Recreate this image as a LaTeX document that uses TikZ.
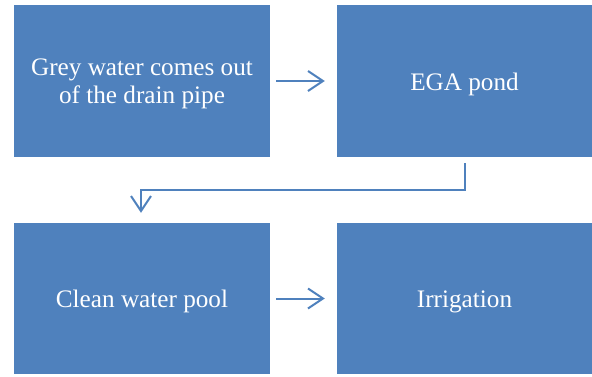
\documentclass[tikz,border=0pt]{standalone}
\usepackage{fontspec}
\setmainfont{Liberation Serif}
\usetikzlibrary{arrows.meta}
\definecolor{boxblue}{HTML}{4F81BD}
\begin{document}
\begin{tikzpicture}[x=1pt,y=-1pt,
  flowbox/.style={fill=boxblue,draw=none,inner sep=0pt,minimum height=152pt},
  boxtext/.style={text=white,align=center,font=\fontsize{25.2}{27.5}\selectfont,inner sep=0pt},
  conn/.style={draw=boxblue,line width=2pt,-{Straight Barb[length=15pt,width=20pt,line width=2pt]}}]
\useasboundingbox (0,0) rectangle (592,376);
\node[flowbox,minimum width=256pt] (a) at (142,81) {};
\node[flowbox,minimum width=255pt] (b) at (464.5,81) {};
\node[flowbox,minimum width=256pt,minimum height=151pt] (c) at (142,298.5) {};
\node[flowbox,minimum width=255pt,minimum height=151pt] (d) at (464.5,298.5) {};
\node[boxtext] (at) at ([yshift=-3pt]a.center) {Grey water comes out\\of the drain pipe};
\node[boxtext] (bt) at ([yshift=-3pt]b.center) {EGA pond};
\node[boxtext] (ct) at ([yshift=-3pt]c.center) {Clean water pool};
\node[boxtext] (dt) at ([yshift=-3pt]d.center) {Irrigation};
\draw[conn] ([xshift=6pt]a.east) -- ([xshift=-12pt]b.west);
\draw[conn] ([yshift=-6pt]b.south) |- (302,190) -| ([xshift=-1pt,yshift=10pt]c.north);
\draw[conn] ([xshift=6pt]c.east) -- ([xshift=-12pt]d.west);
\end{tikzpicture}
\end{document}
